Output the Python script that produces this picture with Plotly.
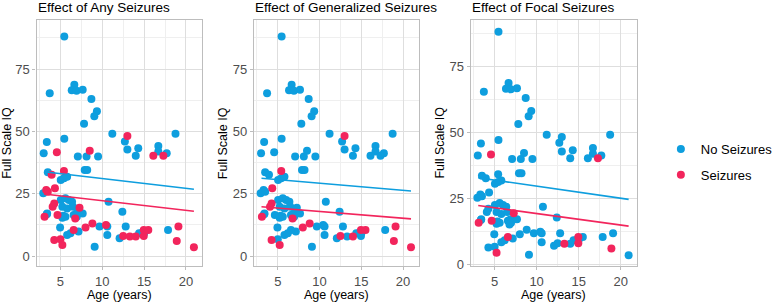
import plotly.graph_objects as go

# ---- data ----
age = [5.46, 3.72, 6.66, 6.35, 6.93, 7.66, 8.70, 9.36, 9.05, 7.82, 5.46, 3.37, 11.2, 12.7, 18.75,
       13.0, 14.3, 16.7, 16.7, 14.0, 17.7, 3.0, 7.08, 8.12, 9.5, 7.9, 8.2, 3.49, 5.04, 5.42,
       5.8, 2.95, 5.04, 5.6, 6.0, 5.23, 5.8, 6.39, 6.5, 3.41, 5.34, 5.6, 5.23, 6.9, 6.58,
       6.96, 7.66, 4.96, 5.8, 6.2, 7.16, 9.67, 10.6, 10.6, 9.09, 10.75, 12.07, 12.4, 12.8, 14.4,
       14.7, 17.86, 15.0, 3.37,
       4.57, 8.5, 3.95, 5.42, 3.3, 3.49, 4.34, 4.26, 4.07, 3.1, 4.65, 7.28, 6.77, 6.58, 8.0,
       8.82, 10.44, 4.26, 5.0, 5.23, 12.5, 13.3, 14.0, 14.96, 14.96, 15.5, 19.1, 18.9, 20.95, 13.0,
       16.1, 17.3]
iq = [88.1, 65.3, 68.7, 66.5, 66.3, 66.7, 63.0, 58.1, 56.1, 53.1, 47.1, 45.8, 49.1, 46.0, 49.1,
      42.7, 43.2, 44.1, 41.9, 40.2, 41.2, 41.2, 39.9, 39.9, 39.9, 34.5, 34.5, 33.6, 30.5, 31.2,
      31.8, 25.2, 22.5, 23.2, 22.5, 19.8, 19.1, 21.8, 19.8, 17.1, 16.2, 15.8, 15.4, 17.1, 16.5,
      15.8, 17.1, 11.4, 8.4, 9.1, 9.8, 11.8, 11.8, 8.4, 3.7, 21.8, 7.1, 17.8, 11.8, 9.1,
      9.1, 10.4, 9.1, 16.8,
      41.6, 42.2, 32.6, 34.1, 26.5, 25.8, 27.2, 21.1, 19.8, 15.8, 16.5, 19.4, 15.1, 10.4, 11.4,
      13.1, 12.4, 6.4, 6.7, 4.4, 8.0, 7.8, 7.8, 8.0, 10.4, 10.4, 11.8, 6.0, 3.5, 48.2,
      40.2, 40.2]
n_blue = 64
any_sz = [0] * n_blue + [1] * 32
gen_sz = [0] * n_blue + [0, 0, 0, 1, 0, 0, 1, 1, 1, 1, 0, 0, 1, 0, 1,
                         1, 0, 1, 0, 1, 1, 0, 1, 0, 1, 1, 1, 1, 1, 1,
                         0, 0]
focal_sz = [0] * n_blue + [1, 0, 0, 0, 0, 0, 0, 0, 0, 1, 1, 1, 0, 1, 0,
                           0, 0, 0, 0, 1, 0, 1, 0, 1, 1, 0, 0, 1, 0, 0,
                           0, 1]

titles = ["Effect of Any Seizures", "Effect of Generalized Seizures", "Effect of Focal Seizures"]
flags = [any_sz, gen_sz, focal_sz]
fit_age = [3.05, 20.95]
fit_no = [[33.8, 26.8], [31.2, 26.1], [32.8, 24.6]]
fit_sz = [[24.9, 18.0], [19.8, 14.9], [22.3, 14.5]]
y_ranges = [[-4.0, 94.7], [-4.0, 94.7], [-0.6, 92.5]]
x_ticks = [5, 10, 15, 20]
y_ticks = [0, 25, 50, 75]
group_names = ["No Seizures", "Seizures"]
x_title = "Age (years)"
y_title = "Full Scale IQ"

BLUE = "#0E9EDE"
RED = "#F2255C"
FONT = "Liberation Sans, Arial, sans-serif"
W, H = 778, 302

fig = go.Figure()
x_px = [(37.7, 208.0), (261.7, 431.7), (485.0, 656.0)]
ytitle_px = [7.0, 230.0, 453.0]
top_px, bot_px = 20.0, 266.0

for i in range(3):
    sfx = "" if i == 0 else str(i + 1)
    xa, ya = "x" + sfx, "y" + sfx
    fl = flags[i]
    bx = [a for a, f in zip(age, fl) if f == 0]
    by = [q for q, f in zip(iq, fl) if f == 0]
    rx = [a for a, f in zip(age, fl) if f == 1]
    ry = [q for q, f in zip(iq, fl) if f == 1]
    fig.add_trace(go.Scatter(x=bx, y=by, mode="markers", xaxis=xa, yaxis=ya,
                             marker=dict(color=BLUE, size=8),
                             name=group_names[0], legendgroup="a", showlegend=(i == 0)))
    fig.add_trace(go.Scatter(x=rx, y=ry, mode="markers", xaxis=xa, yaxis=ya,
                             marker=dict(color=RED, size=8),
                             name=group_names[1], legendgroup="b", showlegend=(i == 0)))
    fig.add_trace(go.Scatter(x=fit_age, y=fit_no[i], mode="lines", xaxis=xa, yaxis=ya,
                             line=dict(color=BLUE, width=1.6), showlegend=False, hoverinfo="skip"))
    fig.add_trace(go.Scatter(x=fit_age, y=fit_sz[i], mode="lines", xaxis=xa, yaxis=ya,
                             line=dict(color=RED, width=1.6), showlegend=False, hoverinfo="skip"))

    axcommon = dict(showgrid=True, gridcolor="#DEDEDE", gridwidth=1,
                    showline=True, mirror=True, linecolor="#BDBDBD", linewidth=1.3,
                    ticks="outside", ticklen=3, tickcolor="#BDBDBD", tickwidth=1,
                    tickfont=dict(family=FONT, size=13, color="#4D4D4D"),
                    zeroline=False, automargin=False)
    x0, x1 = x_px[i]
    fig.layout["xaxis" + sfx] = dict(
        domain=[x0 / W, x1 / W], range=[2.15, 21.9], anchor=ya,
        tickvals=x_ticks, ticktext=[str(v) for v in x_ticks],
        minor=dict(tick0=2.5, dtick=5, showgrid=True, gridcolor="#EFEFEF", gridwidth=0.6, ticks=""),
        **axcommon)
    fig.layout["yaxis" + sfx] = dict(
        domain=[1 - bot_px / H, 1 - top_px / H], range=y_ranges[i], anchor=xa,
        tickvals=y_ticks, ticktext=[str(v) for v in y_ticks],
        minor=dict(tick0=12.5, dtick=25, showgrid=True, gridcolor="#EFEFEF", gridwidth=0.6, ticks=""),
        **axcommon)
    fig.add_annotation(text=titles[i], x=x0 / W, y=1 - 7 / H, xref="paper", yref="paper",
                       xanchor="left", yanchor="middle", showarrow=False, xshift=-1,
                       font=dict(family=FONT, size=13.5, color="#000000"))
    fig.add_annotation(text=x_title, x=(x0 + x1) / 2 / W, y=1 - 295 / H, xref="paper", yref="paper",
                       xanchor="center", yanchor="middle", showarrow=False,
                       font=dict(family=FONT, size=12.5, color="#000000"))
    fig.add_annotation(text=y_title, x=ytitle_px[i] / W, y=1 - (top_px + bot_px) / 2 / H,
                       xref="paper", yref="paper", textangle=-90,
                       xanchor="center", yanchor="middle", showarrow=False,
                       font=dict(family=FONT, size=12.5, color="#000000"))

fig.update_layout(
    width=W, height=H, margin=dict(l=0, r=0, t=0, b=0),
    paper_bgcolor="white", plot_bgcolor="white",
    font=dict(family=FONT, size=12, color="#000000"),
    showlegend=True,
    legend=dict(x=681 / W, y=1 - 134 / H, xanchor="left", yanchor="top",
                font=dict(family=FONT, size=13, color="#000000"),
                traceorder="grouped", tracegroupgap=6, itemwidth=30,
                bgcolor="rgba(0,0,0,0)"),
)

fig.write_html("out.html", config={"displayModeBar": False},
               post_script="document.body.style.margin='0';document.body.style.overflow='hidden';")
